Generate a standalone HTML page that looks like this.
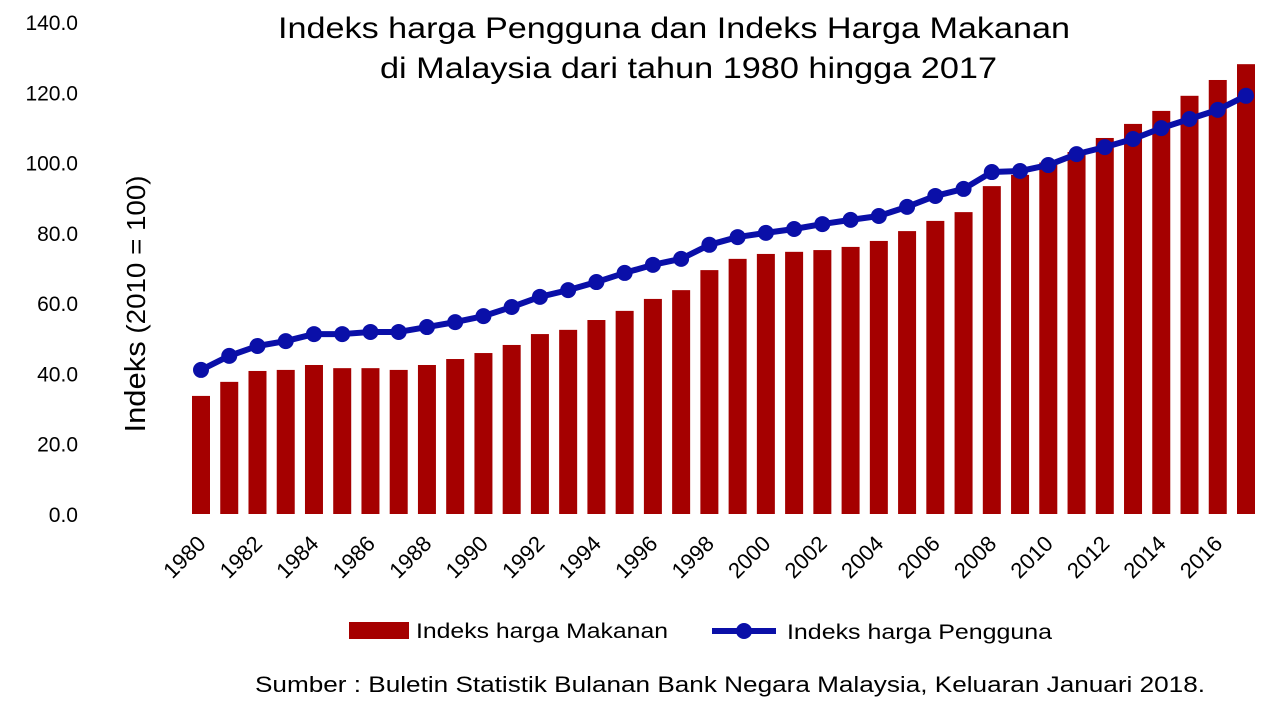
<!DOCTYPE html>
<html><head><meta charset="utf-8">
<style>
html,body{margin:0;padding:0;background:#fff;}
svg{display:block;font-family:"Liberation Sans",Arial,sans-serif;}
</style></head>
<body>
<svg id="chart" width="1281" height="707" viewBox="0 0 1281 707">
<g>
<text x="278" y="38" font-size="30" fill="#000" textLength="792" lengthAdjust="spacingAndGlyphs">Indeks harga Pengguna dan Indeks Harga Makanan</text>
<text x="380" y="78" font-size="30" fill="#000" textLength="617" lengthAdjust="spacingAndGlyphs">di Malaysia dari tahun 1980 hingga 2017</text>
</g>
<g id="yticks"></g>
<text transform="translate(145,304) rotate(-90)" text-anchor="middle" font-size="26" fill="#000" textLength="257" lengthAdjust="spacingAndGlyphs"><tspan font-size="29">Indeks</tspan> (2010 = 100)</text>
<g id="bars"></g>
<g id="line"></g>
<g id="xticks"></g>
<g>
<rect x="349" y="622" width="60" height="17" fill="#a50000"/>
<text x="416" y="638" font-size="21" fill="#000" textLength="252" lengthAdjust="spacingAndGlyphs">Indeks harga Makanan</text>
<line x1="712" y1="631" x2="776" y2="631" stroke="#0a0fa8" stroke-width="6"/>
<circle cx="744" cy="631" r="8" fill="#0a0fa8"/>
<text x="787" y="639" font-size="21" fill="#000" textLength="265" lengthAdjust="spacingAndGlyphs">Indeks harga Pengguna</text>
</g>
<text x="255" y="692" font-size="22" fill="#000" textLength="950" lengthAdjust="spacingAndGlyphs">Sumber : Buletin Statistik Bulanan Bank Negara Malaysia, Keluaran Januari 2018.</text>
</svg>
<script>
const years=[1980,1981,1982,1983,1984,1985,1986,1987,1988,1989,1990,1991,1992,1993,1994,1995,1996,1997,1998,1999,2000,2001,2002,2003,2004,2005,2006,2007,2008,2009,2010,2011,2012,2013,2014,2015,2016,2017];
const foodIndex=[33.6,37.6,40.7,41,42.4,41.5,41.5,41,42.4,44.1,45.8,48.1,51.2,52.4,55.2,57.8,61.2,63.7,69.4,72.6,74,74.6,75.1,76,77.7,80.5,83.4,85.9,93.3,96.5,100,103,107,111,114.7,119,123.5,128];
const cpiIndex=[41,45,47.8,49.2,51.2,51.2,51.8,51.8,53.2,54.6,56.3,58.9,61.8,63.7,66,68.6,70.9,72.6,76.6,78.8,80,81.1,82.5,83.7,84.8,87.4,90.5,92.5,97.3,97.6,99.3,102.4,104.4,106.7,109.8,112.4,115,119];
const yTicks=[0,20,40,60,80,100,120,140];
const NS="http://www.w3.org/2000/svg";
const y=v=>514-v*(492/140);
const x=i=>201+i*((1246-201)/(years.length-1));
function mk(t,a,p){const e=document.createElementNS(NS,t);for(const k in a)e.setAttribute(k,a[k]);p.appendChild(e);return e;}
const gy=document.getElementById('yticks');
yTicks.forEach(v=>{const t=mk('text',{x:78,y:y(v)+8,'text-anchor':'end','font-size':21,fill:'#000'},gy);t.textContent=v.toFixed(1);

});
const gb=document.getElementById('bars');
foodIndex.forEach((v,i)=>{const r=mk('rect',{x:x(i)-9,y:y(v),width:18,height:y(0)-y(v),fill:'#a50000'},gb);

});
const gl=document.getElementById('line');
const pl=mk('polyline',{points:cpiIndex.map((v,i)=>x(i)+','+y(v)).join(' '),fill:'none',stroke:'#0a0fa8','stroke-width':6,'stroke-linejoin':'round'},gl);


cpiIndex.forEach((v,i)=>{const c=mk('circle',{cx:x(i),cy:y(v),r:8,fill:'#0a0fa8'},gl);

});
const gx=document.getElementById('xticks');
years.forEach((yr,i)=>{if(i%2)return;const px=x(i)+6,py=545;
const t=mk('text',{x:px,y:py,'text-anchor':'end','font-size':22,fill:'#000',transform:`rotate(-45 ${px} ${py})`},gx);t.textContent=yr;

});
</script>
</body></html>
